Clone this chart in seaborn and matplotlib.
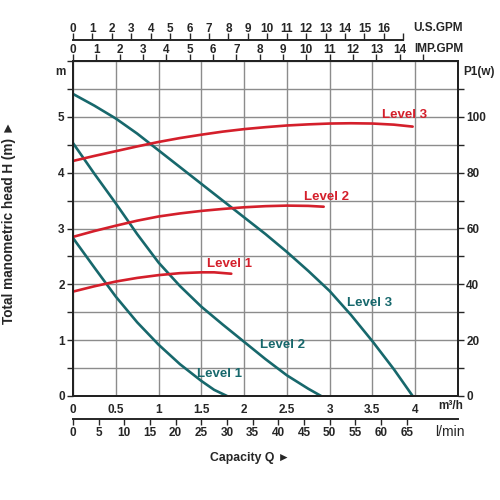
import matplotlib
matplotlib.use('Agg')
import matplotlib.pyplot as plt
import seaborn as sns
import numpy as np

# head curves (Q in m3/h, H in m)
head_q3 = [0, 0.25, 0.5, 0.75, 1.0, 1.25, 1.5, 1.75, 2.0, 2.25, 2.5, 2.75, 3.0, 3.25, 3.5, 3.75, 3.97]
head_h3 = [5.41, 5.2, 4.97, 4.7, 4.4, 4.1, 3.8, 3.5, 3.2, 2.9, 2.58, 2.24, 1.88, 1.45, 0.98, 0.48, 0]
head_q2 = [0, 0.25, 0.5, 0.75, 1.0, 1.25, 1.5, 1.75, 2.0, 2.25, 2.5, 2.75, 2.9]
head_h2 = [4.53, 3.98, 3.45, 2.9, 2.39, 1.97, 1.6, 1.28, 0.97, 0.66, 0.37, 0.13, 0]
head_q1 = [0, 0.25, 0.5, 0.75, 1.0, 1.25, 1.5, 1.65, 1.8]
head_h1 = [2.83, 2.3, 1.78, 1.32, 0.92, 0.57, 0.27, 0.11, 0]

# power curves (Q in m3/h, P1 in W)
pow_q3 = [0, 0.25, 0.5, 0.75, 1.0, 1.25, 1.5, 1.75, 2.0, 2.25, 2.5, 2.75, 3.0, 3.25, 3.5, 3.75, 3.97]
pow_w3 = [84.2, 86.0, 87.7, 89.4, 91.0, 92.4, 93.6, 94.7, 95.6, 96.3, 96.9, 97.3, 97.6, 97.7, 97.6, 97.2, 96.5]
pow_q2 = [0, 0.25, 0.5, 0.75, 1.0, 1.25, 1.5, 1.75, 2.0, 2.25, 2.5, 2.75, 2.93]
pow_w2 = [57.0, 59.1, 61.0, 62.8, 64.3, 65.4, 66.3, 67.0, 67.6, 68.0, 68.2, 68.1, 67.8]
pow_q1 = [0, 0.25, 0.5, 0.75, 1.0, 1.25, 1.5, 1.65, 1.85]
pow_w1 = [37.4, 39.3, 41.0, 42.3, 43.3, 44.0, 44.3, 44.3, 43.8]

teal = '#17686c'
red = '#d41f2b'

sns.set_style('white')
plt.rcParams['font.family'] = ['Liberation Sans', 'DejaVu Sans']
plt.rcParams['font.weight'] = 'bold'

fig = plt.figure(figsize=(5, 5), dpi=100)
ax = fig.add_axes([0.146, 0.208, 0.77, 0.67])
ax2 = ax.twinx()

ax.set_xlim(0, 4.5)
ax.set_ylim(0, 6)
ax2.set_ylim(0, 120)

for q, h in [(head_q3, head_h3), (head_q2, head_h2), (head_q1, head_h1)]:
    sns.lineplot(x=q, y=h, ax=ax, color=teal, lw=1.9, estimator=None, sort=False)
for q, w in [(pow_q3, pow_w3), (pow_q2, pow_w2), (pow_q1, pow_w1)]:
    sns.lineplot(x=q, y=w, ax=ax2, color=red, lw=1.9, estimator=None, sort=False)

# grid
ax.set_xticks(np.arange(0, 4.51, 0.5))
ax.set_yticks(np.arange(0, 6.01, 0.5))
ax.grid(True, color='#8c8c8c', lw=1)
ax.set_axisbelow(True)
for a in (ax, ax2):
    for sp in a.spines.values():
        sp.set_color('#222222')
        sp.set_linewidth(1.4)

fs = 8.5
ax.set_xticklabels(['0', '0.5', '1', '1.5', '2', '2.5', '3', '3.5', '4', ''],
                   fontsize=fs, fontweight='bold')
ax.set_yticklabels(['0', '', '1', '', '2', '', '3', '', '4', '', '5', '', ''],
                   fontsize=fs, fontweight='bold')
ax.tick_params(axis='x', direction='out', length=3, width=1, pad=3)
ax.tick_params(axis='y', direction='out', length=4, width=1, pad=2)
ax.set_xlabel('')
ax.set_ylabel('')

ax2.set_yticks(np.arange(0, 101, 20))
ax2.set_yticks(np.arange(0, 111, 10), minor=True)
ax2.set_yticklabels([str(v) for v in range(0, 101, 20)], fontsize=fs, fontweight='bold')
ax2.tick_params(axis='y', which='both', direction='out', length=4, width=1, pad=2)
ax2.set_ylabel('')

# secondary flow scales
usg = 1000 / 60 / 3.78541
impg = 1000 / 60 / 4.54609
lpm = 1000 / 60

sec_imp = ax.secondary_xaxis('top', functions=(lambda x: x * impg, lambda x: x / impg))
sec_imp.set_xticks(range(0, 16))
sec_imp.set_xticklabels([str(i) for i in range(15)] + [''], fontsize=fs, fontweight='bold')
sec_imp.tick_params(direction='out', length=5, width=1, pad=-1.5)
sec_imp.spines['top'].set_linewidth(1.4)

sec_us = ax.secondary_xaxis(1.063, functions=(lambda x: x * usg, lambda x: x / usg))
sec_us.set_xticks(range(0, 18))
sec_us.set_xticklabels([str(i) for i in range(17)] + [''], fontsize=fs, fontweight='bold')
sec_us.tick_params(direction='out', length=5, width=1, pad=-1.5)
sec_us.spines['top'].set_linewidth(1.4)
sec_us.spines['top'].set_bounds(0, 17)

sec_l = ax.secondary_xaxis(-0.069, functions=(lambda x: x * lpm, lambda x: x / lpm))
sec_l.set_xticks(range(0, 66, 5))
sec_l.set_xticklabels([str(i) for i in range(0, 66, 5)], fontsize=fs, fontweight='bold')
sec_l.tick_params(direction='out', length=4, width=1, pad=2)
sec_l.spines['bottom'].set_linewidth(1.4)

# axis unit texts
ax.text(4.41, -0.07, 'm³/h', ha='center', va='top', fontsize=fs, fontweight='bold')
ax.text(4.41, -0.645, 'l/min', ha='center', va='center', fontsize=10, fontweight='normal')
ax.text(4.56, 6.59, 'U.S.GPM', ha='right', va='center', fontsize=fs, fontweight='bold')
ax.text(4.56, 6.22, 'IMP.GPM', ha='right', va='center', fontsize=fs, fontweight='bold')
ax.text(-0.09, 5.8, 'm', ha='right', va='center', fontsize=fs, fontweight='bold')
ax.text(4.56, 5.8, 'P1(w)', ha='left', va='center', fontsize=fs, fontweight='bold')

fig.text(0.5, 0.084, 'Capacity Q ►', ha='center', va='center', fontsize=8.8, fontweight='bold')
fig.text(0.018, 0.556, 'Total manometric head H (m) ►', rotation=90, ha='center', va='center',
         fontsize=9.8, fontweight='bold')

# curve labels
lab = dict(ha='center', va='center', fontsize=9.5, fontweight='bold')
ax.text(3.87, 5.03, 'Level 3', color=red, **lab)
ax.text(2.96, 3.57, 'Level 2', color=red, **lab)
ax.text(1.83, 2.36, 'Level 1', color=red, **lab)
ax.text(3.47, 1.66, 'Level 3', color=teal, **lab)
ax.text(2.45, 0.91, 'Level 2', color=teal, **lab)
ax.text(1.71, 0.40, 'Level 1', color=teal, **lab)

fig.savefig('out.png', dpi=100)
